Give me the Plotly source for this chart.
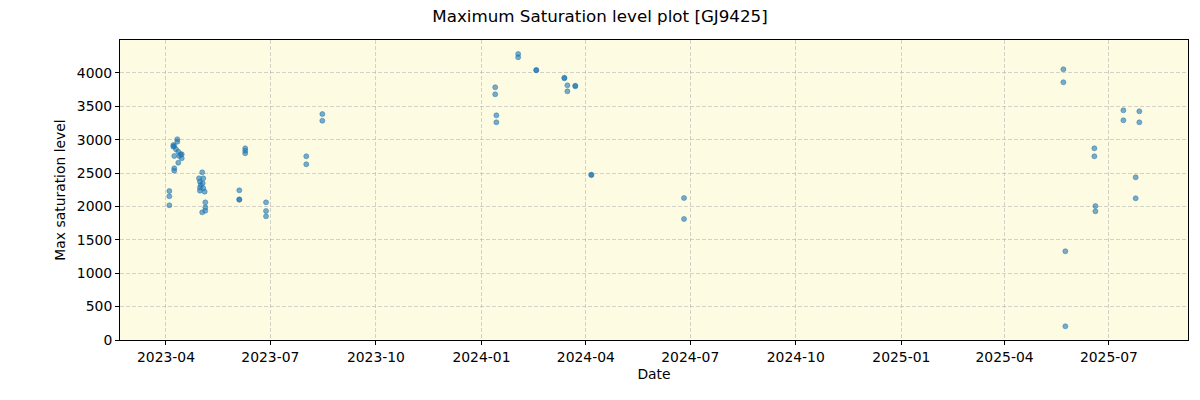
import plotly.graph_objects as go

dates = [
    "2023-04-03 22:00", "2023-04-03 22:00", "2023-04-03 22:00",
    "2023-04-10 21:00", "2023-04-10 21:00", "2023-04-07 10:00", "2023-04-07 10:00",
    "2023-04-08 05:00", "2023-04-08 05:00", "2023-04-08 05:00", "2023-04-08 05:00",
    "2023-04-09 17:00", "2023-04-11 17:00", "2023-04-11 17:00", "2023-04-13 19:00",
    "2023-04-14 17:00", "2023-04-14 17:00", "2023-04-12 14:00",
    "2023-05-02 14:00", "2023-05-02 14:00", "2023-04-29 19:00", "2023-05-03 12:00",
    "2023-05-03 12:00", "2023-04-30 14:00", "2023-04-30 14:00", "2023-04-30 14:00",
    "2023-05-03 00:00", "2023-05-01 07:00", "2023-05-04 17:00",
    "2023-05-05 07:00", "2023-05-05 07:00", "2023-05-05 07:00",
    "2023-06-03 22:00", "2023-06-03 22:00", "2023-06-03 22:00",
    "2023-06-09 02:00", "2023-06-09 02:00", "2023-06-09 02:00",
    "2023-06-27 05:00", "2023-06-27 05:00", "2023-06-27 05:00",
    "2023-08-01 07:00", "2023-08-01 07:00", "2023-08-15 07:00", "2023-08-15 07:00",
    "2024-01-13", "2024-01-13", "2024-01-14", "2024-01-14",
    "2024-02-02", "2024-02-02", "2024-02-17 19:00", "2024-02-17 19:00",
    "2024-03-13 07:00", "2024-03-13 07:00", "2024-03-15 22:00", "2024-03-15 22:00",
    "2024-03-22 19:00", "2024-03-22 19:00", "2024-04-05 19:00", "2024-04-05 19:00",
    "2024-06-25 14:00", "2024-06-25 14:00",
    "2025-05-22 07:00", "2025-05-22 07:00", "2025-05-24", "2025-05-24",
    "2025-06-18 07:00", "2025-06-18 07:00", "2025-06-19 05:00", "2025-06-19 05:00",
    "2025-07-13 14:00", "2025-07-13 14:00", "2025-07-27 12:00", "2025-07-27 12:00",
    "2025-07-24 07:00", "2025-07-24 07:00",
]
levels = [
    2232, 2153, 2018,
    3007, 2971, 2921, 2896,
    2906, 2757, 2572, 2537,
    2857, 2821, 2656, 2782,
    2782, 2722, 2757,
    2512, 1912, 2422, 2422,
    2272, 2372, 2282, 2237,
    2347, 2322, 2222,
    2062, 1987, 1937,
    2242, 2107, 2100,
    2872, 2836, 2797,
    2062, 1933, 1853,
    2752, 2632, 3385, 3285,
    3786, 3681, 3366, 3261,
    4285, 4235, 4045, 4040,
    3930, 3920, 3815, 3725,
    3810, 3800, 2477, 2470,
    2127, 1813,
    4055, 3861, 1329, 205,
    2872, 2752, 2007, 1928,
    3441, 3291, 3426, 3261,
    2437, 2122,
]

title = "Maximum Saturation level plot [GJ9425]"
x_label = "Date"
y_label = "Max saturation level"
tick_dates = ["2023-04-01", "2023-07-01", "2023-10-01", "2024-01-01", "2024-04-01",
              "2024-07-01", "2024-10-01", "2025-01-01", "2025-04-01", "2025-07-01"]
tick_text = ["2023-04", "2023-07", "2023-10", "2024-01", "2024-04",
             "2024-07", "2024-10", "2025-01", "2025-04", "2025-07"]
y_ticks = [0, 500, 1000, 1500, 2000, 2500, 3000, 3500, 4000]

fig = go.Figure(go.Scatter(
    x=dates, y=levels, mode="markers",
    marker=dict(size=5, color="rgba(31,119,180,0.6)",
                line=dict(width=0.8, color="rgba(31,119,180,0.6)")),
    showlegend=False,
))

font = "DejaVu Sans, sans-serif"
fig.update_layout(
    width=1200, height=400,
    margin=dict(l=120, r=12, t=40, b=60),
    paper_bgcolor="white", plot_bgcolor="#fdfbe1",
    font=dict(family=font, size=13.9, color="black"),
    title=dict(text=title, x=0.5, xanchor="center", y=0.96, yanchor="middle",
               font=dict(size=16.7, family=font)),
)
axis_common = dict(
    showline=True, linecolor="black", linewidth=1, mirror=True,
    ticks="outside", ticklen=4, tickcolor="black",
    showgrid=True, gridcolor="rgba(176,176,176,0.55)", griddash="4px,2px", gridwidth=1,
    zeroline=False, tickfont=dict(size=13.9),
)
fig.update_xaxes(
    type="date", range=["2023-02-19 22:00", "2025-09-07 22:00"],
    tickmode="array", tickvals=tick_dates, ticktext=tick_text,
    title=dict(text=x_label, standoff=5, font=dict(size=13.9)),
    **axis_common,
)
fig.update_yaxes(
    range=[0, 4494], tickmode="array", tickvals=y_ticks,
    title=dict(text=y_label, standoff=7, font=dict(size=13.9)),
    **axis_common,
)

fig.write_html("out.html")
